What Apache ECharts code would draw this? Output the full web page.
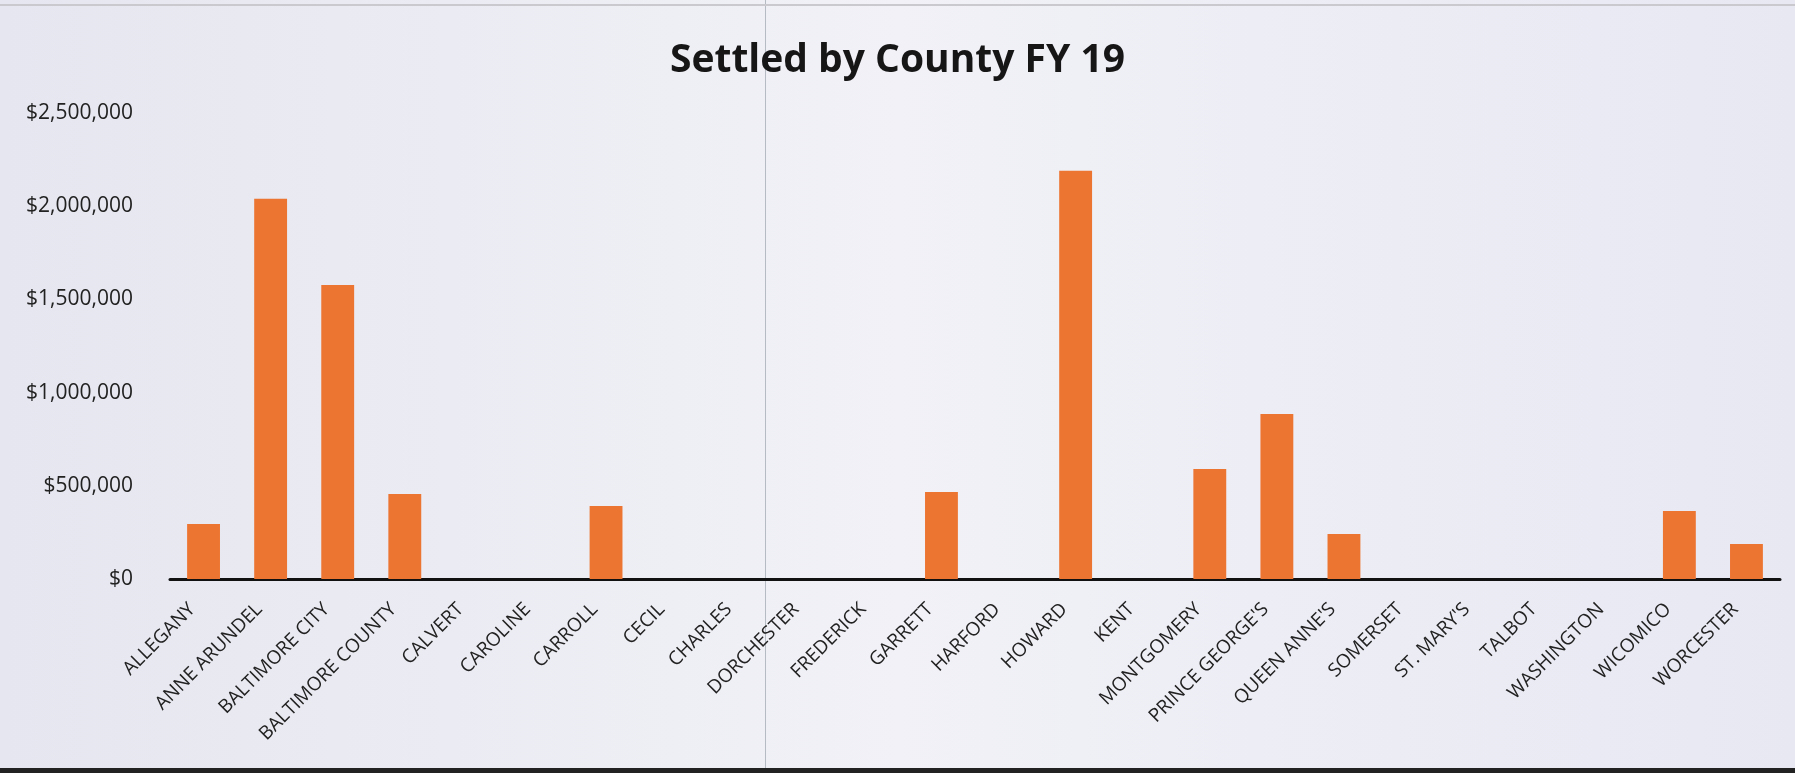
<!DOCTYPE html>
<html>
<head>
<meta charset="utf-8">
<script src="https://cdn.jsdelivr.net/npm/echarts@6/dist/echarts.min.js"></script>
<style>
  html, body { margin: 0; padding: 0; }
  #chart { width: 1795px; height: 773px; }
</style>
</head>
<body>
<div id="chart"></div>
<script>
// counties on the x axis
const counties = [
  'ALLEGANY', 'ANNE ARUNDEL', 'BALTIMORE CITY', 'BALTIMORE COUNTY', 'CALVERT',
  'CAROLINE', 'CARROLL', 'CECIL', 'CHARLES', 'DORCHESTER', 'FREDERICK',
  'GARRETT', 'HARFORD', 'HOWARD', 'KENT', 'MONTGOMERY', "PRINCE GEORGE'S",
  "QUEEN ANNE'S", 'SOMERSET', "ST. MARY'S", 'TALBOT', 'WASHINGTON',
  'WICOMICO', 'WORCESTER'
]
// settled amounts
const settled = [
  295000, 2040000, 1577000, 456000, 0,
  0, 392000, 0, 0, 0, 0,
  467000, 0, 2190000, 0, 590000, 885000,
  241000, 0, 0, 0, 0,
  365000, 188000
]
const yMin = 0
const yMax = 2500000
const yStep = 500000

const chart = echarts.init(document.getElementById('chart'))

chart.setOption({
  backgroundColor: {
    type: 'linear', x: 0, y: 0, x2: 1, y2: 0,
    colorStops: [
      { offset: 0, color: '#e5e6ef' },
      { offset: 0.5, color: '#f1f1f7' },
      { offset: 1, color: '#e7e8f2' }
    ]
  },
  title: {
    text: 'Settled by County FY 19',
    left: 'center',
    top: 36,
    textStyle: {
      fontFamily: 'Open Sans',
      fontWeight: 'bold',
      fontSize: 39,
      color: '#161616'
    }
  },
  grid: {
    left: 170,
    right: 15,
    top: 113,
    bottom: 194
  },
  xAxis: {
    type: 'category',
    data: counties,
    axisTick: { show: false },
    axisLine: {
      lineStyle: { color: '#111', width: 3 }
    },
    axisLabel: {
      interval: 0,
      rotate: 45,
      margin: 16,
      padding: [0, 16, 0, 0],
      fontFamily: 'Open Sans',
      fontSize: 19,
      color: '#222'
    }
  },
  yAxis: {
    type: 'value',
    min: yMin,
    max: yMax,
    interval: yStep,
    axisLine: { show: false },
    axisTick: { show: false },
    splitLine: { show: false },
    axisLabel: {
      margin: 37,
      fontFamily: 'Open Sans',
      fontSize: 21,
      color: '#222',
      formatter: v => '$' + v.toLocaleString('en-US')
    }
  },
  series: [{
    name: 'Settled',
    type: 'bar',
    data: settled,
    barWidth: '49%',
    itemStyle: { color: '#ed7532' },
    animation: false
  }],
  graphic: [{
    // fold line from the scanned page
    type: 'rect',
    shape: { x: 765, y: 0, width: 1, height: 773 },
    style: { fill: 'rgba(110,125,130,0.45)' },
    silent: true
  }, {
    type: 'rect',
    shape: { x: 0, y: 4, width: 1795, height: 2 },
    style: { fill: '#c9c9ce' },
    silent: true
  }, {
    type: 'rect',
    shape: { x: 0, y: 768, width: 1795, height: 5 },
    style: { fill: '#222' },
    silent: true
  }]
})
</script>
</body>
</html>
